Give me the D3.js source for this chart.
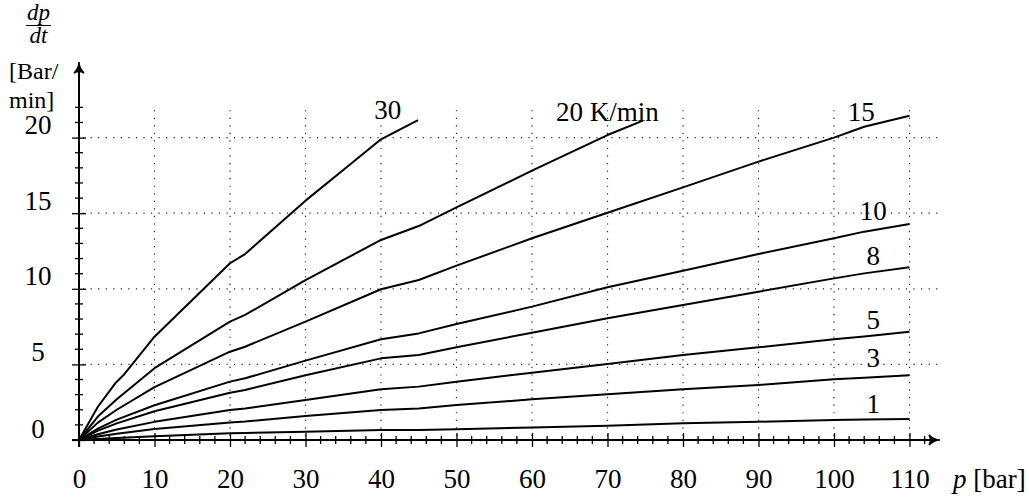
<!DOCTYPE html>
<html lang="de">
<head>
    <meta charset="UTF-8">
    <title>dp/dt</title>
    <style>
        body { margin: 0; background: #fff; }
        text { font-family: "Liberation Serif", "DejaVu Serif", serif; fill: #000; }
    </style>
</head>
<body>
<div class="graph"></div>
<script src="https://d3js.org/d3.v7.min.js"></script>
<script>
    var w = 1029, h = 497;

    // heating rates (curve labels)
    var rateLabels = ["30", "20 K/min", "15", "10", "8", "5", "3", "1"];

    // p [bar] and dp/dt [Bar/min], one pair per curve
    var p30 = [0, 2.5, 4.8, 6, 10, 15, 20, 22, 30, 35, 40, 44.9];
    var v30 = [0, 2.2, 3.75, 4.35, 6.83, 9.26, 11.69, 12.3, 15.83, 17.86, 19.89, 21.16];
    var p20 = [0, 2.5, 5, 10, 20, 22, 30, 40, 45, 50, 60, 70, 74.7];
    var v20 = [0, 1.55, 2.7, 4.75, 7.83, 8.27, 10.58, 13.23, 14.15, 15.39, 17.81, 20.17, 21.12];
    var pLong = [0, 2.5, 5, 10, 20, 22, 30, 40, 45, 50, 60, 70, 80, 90, 100, 104, 110];
    var v15 = [0, 1.15, 2.0, 3.5, 5.84, 6.17, 7.83, 9.97, 10.58, 11.53, 13.34, 15.03, 16.71, 18.41, 20.0, 20.72, 21.45];
    var v10 = [0, 0.75, 1.35, 2.3, 3.86, 4.08, 5.25, 6.66, 7.05, 7.67, 8.82, 10.1, 11.2, 12.3, 13.34, 13.78, 14.29];
    var v8  = [0, 0.62, 1.1, 1.9, 3.13, 3.31, 4.28, 5.4, 5.62, 6.13, 7.1, 8.05, 8.93, 9.81, 10.69, 11.02, 11.42];
    var v5  = [0, 0.38, 0.7, 1.2, 1.98, 2.08, 2.65, 3.35, 3.53, 3.86, 4.45, 5.03, 5.62, 6.13, 6.66, 6.85, 7.16];
    var v3  = [0, 0.23, 0.42, 0.72, 1.15, 1.22, 1.59, 1.98, 2.09, 2.31, 2.69, 3.02, 3.35, 3.64, 4.01, 4.12, 4.28];
    var v1  = [0, 0.07, 0.13, 0.25, 0.44, 0.46, 0.55, 0.66, 0.66, 0.71, 0.83, 0.95, 1.1, 1.21, 1.32, 1.35, 1.39];

    // where each curve label sits, in data units [p, dp/dt]
    var labelP = [40.9, 70.0, 103.6, 105.2, 105.2, 105.2, 105.2, 105.2];
    var labelV = [21.25, 21.1, 21.1, 14.55, 11.6, 7.35, 4.85, 1.78];

    var xTicks = d3.range(0, 111, 10);
    var yTicks = [0, 5, 10, 15, 20];

    var curves = [
        {p: p30, v: v30}, {p: p20, v: v20}, {p: pLong, v: v15}, {p: pLong, v: v10},
        {p: pLong, v: v8}, {p: pLong, v: v5}, {p: pLong, v: v3}, {p: pLong, v: v1}
    ];

    var x = d3.scaleLinear().domain([0, 110]).range([79, 909.5]);
    var y = d3.scaleLinear().domain([0, 20]).range([440, 137.6]);

    var svg = d3.select(".graph").append("svg")
        .attr("width", w).attr("height", h);

    // dotted grid
    var grid = svg.append("g")
        .attr("stroke", "#222").attr("stroke-width", 1.2)
        .attr("stroke-dasharray", "1.2,6.35").attr("fill", "none");
    grid.selectAll(".hg").data(yTicks.slice(1)).enter().append("line")
        .attr("x1", x(0) + 4).attr("x2", x(114.3))
        .attr("y1", y).attr("y2", y);
    grid.selectAll(".vg").data(xTicks.slice(1)).enter().append("line")
        .attr("x1", x).attr("x2", x)
        .attr("y1", y(0) - 4).attr("y2", y(22));

    // axes
    var xAxis = svg.append("g")
        .attr("transform", "translate(0," + y(0) + ")")
        .call(d3.axisBottom(x).tickValues(xTicks).tickSize(7).tickPadding(21.8));
    var yAxis = svg.append("g")
        .attr("transform", "translate(" + x(0) + ",0)")
        .call(d3.axisLeft(y).tickValues(yTicks).tickSize(7));
    [xAxis, yAxis].forEach(function(g) {
        g.attr("font-family", null);
        g.select(".domain").remove();
        g.selectAll(".tick line").attr("stroke", "#000").attr("stroke-width", 1.3);
        g.selectAll("text").style("font-size", "27px").attr("fill", "#000");
    });
    xAxis.selectAll(".tick line").attr("y1", -7).attr("y2", 7);
    yAxis.selectAll(".tick line").attr("x1", -7).attr("x2", 7);
    yAxis.selectAll("text").attr("text-anchor", "middle").attr("x", -41).attr("dy", "-0.15em");
    yAxis.select(".tick text").attr("dy", "-0.1em");

    // minor ticks
    var minor = svg.append("g").attr("stroke", "#000").attr("stroke-width", 1.3);
    minor.selectAll(".mx").data(d3.range(2, 113, 2).filter(function(d) { return d % 10; }))
        .enter().append("line")
        .attr("x1", x).attr("x2", x).attr("y1", y(0) - 4).attr("y2", y(0) + 4);
    minor.selectAll(".my").data(d3.range(1, 23).filter(function(d) { return d % 5; }))
        .enter().append("line")
        .attr("x1", x(0) - 4).attr("x2", x(0) + 4).attr("y1", y).attr("y2", y);

    // axis lines with arrows
    var ax = svg.append("g").attr("stroke", "#000").attr("stroke-width", 2).attr("fill", "none");
    ax.append("line").attr("x1", x(0) - 7).attr("x2", 938).attr("y1", y(0)).attr("y2", y(0));
    ax.append("line").attr("x1", x(0)).attr("x2", x(0)).attr("y1", y(0) + 7).attr("y2", 64);
    ax.append("path").attr("stroke-width", 1.5).attr("fill", "#000")
        .attr("d", "M" + 929 + "," + (y(0) - 5) + " Q934," + y(0) + " 940," + y(0) +
                   " Q934," + y(0) + " 929," + (y(0) + 5) + " Q932," + y(0) + " 929," + (y(0) - 5) + "Z");
    ax.append("path").attr("stroke-width", 1.5).attr("fill", "#000")
        .attr("d", "M" + (x(0) - 5) + ",73 Q" + x(0) + ",68 " + x(0) + ",62 Q" + x(0) + ",68 " +
                   (x(0) + 5) + ",73 Q" + x(0) + ",70 " + (x(0) - 5) + ",73Z");

    // curves
    var line = d3.line()
        .x(function(d) { return x(d[0]); })
        .y(function(d) { return y(d[1]); });
    svg.append("g").selectAll("path").data(curves).enter().append("path")
        .attr("fill", "none").attr("stroke", "#000").attr("stroke-width", 2)
        .attr("stroke-linejoin", "round")
        .attr("d", function(c) { return line(d3.zip(c.p, c.v)); });

    // curve labels
    svg.append("g").selectAll("text").data(rateLabels).enter().append("text")
        .attr("x", function(d, i) { return x(labelP[i]); })
        .attr("y", function(d, i) { return y(labelV[i]); })
        .attr("text-anchor", "middle")
        .style("font-size", "27px")
        .text(function(d) { return d; });

    // axis titles
    svg.append("text").attr("x", 38.5).attr("y", 20).attr("text-anchor", "middle")
        .style("font-size", "23px").style("font-style", "italic").text("dp");
    svg.append("line").attr("x1", 26).attr("x2", 51).attr("y1", 25.5).attr("y2", 25.5)
        .attr("stroke", "#000").attr("stroke-width", 1);
    svg.append("text").attr("x", 38.5).attr("y", 43).attr("text-anchor", "middle")
        .style("font-size", "23px").style("font-style", "italic").text("dt");
    svg.append("text").attr("x", 9).attr("y", 79).style("font-size", "24px").text("[Bar/");
    svg.append("text").attr("x", 9).attr("y", 108).style("font-size", "24px").text("min]");

    var pt = svg.append("text").attr("x", 953).attr("y", 488).style("font-size", "27px");
    pt.append("tspan").style("font-style", "italic").text("p");
    pt.append("tspan").text(" [bar]");
</script>
</body>
</html>
